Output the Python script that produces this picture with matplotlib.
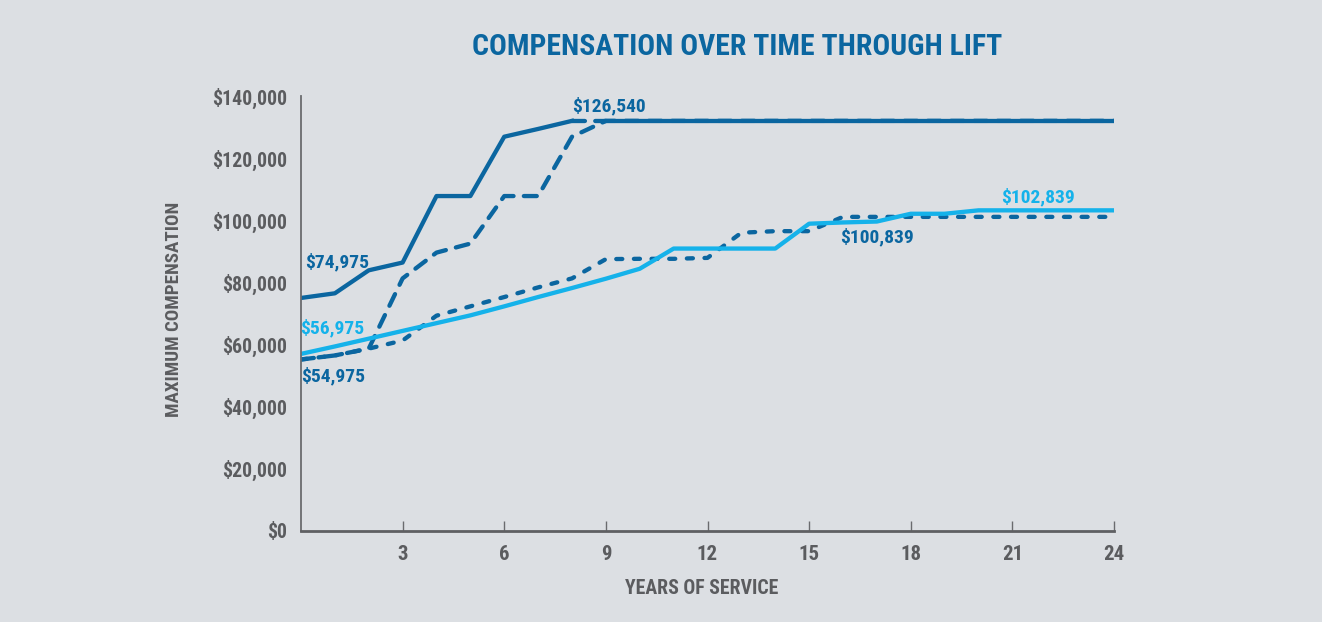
import matplotlib
matplotlib.use("Agg")
import matplotlib.pyplot as plt
from matplotlib import font_manager

# values (in dollars)
years = list(range(0, 25))

lift_top = [75000, 76500, 83900, 86400, 107800, 107800, 126900, 129400, 132000] + [132000] * 16
lift_top_alt = [55200, 56500, 58700, 81300, 89600, 92500, 107800, 107800, 126900] + [132000] * 16
lift_base = [57000, 59400, 61900, 64400, 66900, 69400, 72300, 75300, 78200, 81200,
             84400, 90900, 90900, 90900, 90900, 98900, 99300, 99600, 102100, 102100,
             103200, 103200, 103200, 103200, 103200]
lift_base_alt = [55200, 56500, 58700, 61300, 69300, 72300, 75300, 78400, 81300, 87500,
                 87600, 87600, 87900, 96000, 96500, 96500, 101100, 101100, 101100, 101100,
                 101100, 101100, 101100, 101100, 101100]

x_ticks = [3, 6, 9, 12, 15, 18, 21, 24]
y_ticks = [0, 20000, 40000, 60000, 80000, 100000, 120000, 140000]

# label text, x, y (data coords), colour key
labels = [
    ("$74,975", 1.06, 86500, "dark"),
    ("$56,975", 0.93, 65200, "light"),
    ("$54,975", 0.94, 50000, "dark"),
    ("$126,540", 9.09, 136900, "dark"),
    ("$100,839", 17.0, 94500, "dark"),
    ("$102,839", 21.77, 107600, "light"),
]

DARK = "#0b66a0"
LIGHT = "#15b2ea"
GRAY = "#5b5c5f"
BG = "#dcdfe3"

names = {f.name for f in font_manager.fontManager.ttflist}
fam = "Roboto Condensed" if "Roboto Condensed" in names else "Roboto"
plt.rcParams["font.family"] = [fam, "DejaVu Sans"]
plt.rcParams["font.weight"] = "bold"
k = 1.0 if fam == "Roboto Condensed" else 0.87  # shrink when only wide face exists

fig = plt.figure(figsize=(13.22, 6.22), dpi=100, facecolor=BG)
ax = fig.add_axes([301 / 1322, 1 - 531 / 622, 813 / 1322, 435 / 622])
ax.set_facecolor(BG)

lw = 3.1
# dashed series first, solid ones on top
ax.plot(years, lift_top_alt, color=DARK, lw=lw, dashes=(3.0, 2.4),
        dash_capstyle="round")
ax.plot(years, lift_base_alt, color=DARK, lw=lw, dashes=(1.4, 2.7),
        dash_capstyle="round")
ax.plot(years, lift_base, color=LIGHT, lw=lw)
ax.plot(years[:9], lift_top[:9], color=DARK, lw=lw)
ax.plot(years[8:10], lift_top[8:10], color=DARK, lw=lw, dashes=(3.0, 2.4),
        dash_capstyle="round")
ax.plot(years[9:], lift_top[9:], color=DARK, lw=lw)

for txt, x, y, c in labels:
    ax.text(x, y, txt, color=DARK if c == "dark" else LIGHT, fontsize=14 * k,
            fontweight="bold", ha="center", va="center")

ax.set_xlim(0, 24)
ax.set_ylim(0, 140000)
ax.set_xticks(x_ticks)
ax.set_xticklabels([str(t) for t in x_ticks])
ax.set_yticks(y_ticks)
ax.set_yticklabels(["${:,}".format(t) for t in y_ticks])

for side in ["top", "right"]:
    ax.spines[side].set_visible(False)
ax.spines["left"].set_color("#6a6b6e")
ax.spines["left"].set_linewidth(1.3)
ax.spines["bottom"].set_color("#5f6063")
ax.spines["bottom"].set_linewidth(2.0)

ax.tick_params(axis="x", direction="in", length=7, width=1.0, color="#6a6b6e",
               labelsize=15 * k, labelcolor=GRAY, pad=10)
ax.tick_params(axis="y", length=0, labelsize=14.3 * k, labelcolor=GRAY, pad=10)

ax.set_xlabel("YEARS OF SERVICE", fontsize=14.2 * k, color=GRAY, fontweight="bold", va="center")
ax.set_ylabel("MAXIMUM COMPENSATION", fontsize=13.7 * k, color=GRAY, fontweight="bold", va="center")
ax.xaxis.set_label_coords((701.5 - 301) / 813, (531 - 589) / 435)
ax.yaxis.set_label_coords((174 - 301) / 813, (531 - 309) / 435)

fig.text(737 / 1322, 1 - 47 / 622, "COMPENSATION OVER TIME THROUGH LIFT",
         color=DARK, fontsize=21.3 * k, fontweight="bold", ha="center", va="center")

fig.savefig("out.png", dpi=100, facecolor=BG)
